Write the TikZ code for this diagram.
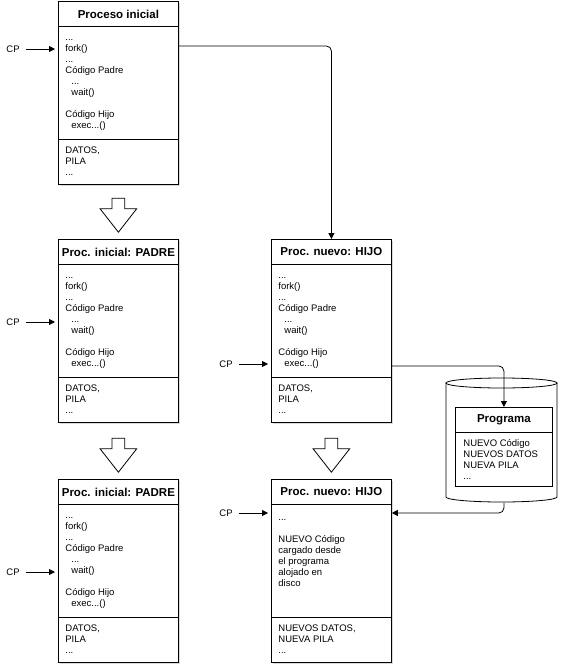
\documentclass[tikz,border=0pt]{standalone}
\usepackage{fontspec}
\setmainfont{Liberation Sans}
\usetikzlibrary{arrows.meta,positioning,shadows,shapes.arrows}

\newcommand{\codigofork}{...\\fork()\\...\\Código Padre\\\hspace*{6pt}...\\\hspace*{6pt}wait()\\[11pt]Código Hijo\\\hspace*{6pt}exec...()}

\begin{document}
\begin{tikzpicture}[x=1pt,y=-1pt,line width=0.8pt,>={Triangle[length=6pt,width=6pt]},
    proc/.style={draw,fill=white,anchor=north west,inner sep=0pt,
      minimum width=120pt,minimum height=183pt,
      drop shadow={opacity=0.3,shadow xshift=2pt,shadow yshift=-2pt}},
    head/.style={font=\bfseries\fontsize{11.5}{13}\selectfont},
    body/.style={anchor=north west,align=left,inner sep=0pt,
      font=\fontsize{9.5}{11}\selectfont,execute at begin node=\strut},
    cp/.style={font=\fontsize{9.5}{11}\selectfont},
    flow/.style={->,rounded corners=5pt},
    bigarrow/.style={single arrow,draw,fill=white,shape border rotate=270,inner sep=6pt,
      minimum height=34pt,single arrow head extend=12pt,single arrow tip angle=76}]
  \useasboundingbox (0,0) rectangle (562,668);

  % procesos
  \node[proc] (p0) at (58,1) {};
  \node[proc] (p1) at (58,239) {};
  \node[proc] (p2) at (58,479) {};
  \node[proc] (h1) at (271,239) {};
  \node[proc] (h2) at (271,479) {};
  \foreach \b in {p0,p1,p2,h1,h2} {
    \draw ([yshift=-25pt]\b.north west) -- ([yshift=-25pt]\b.north east);
    \draw ([yshift=-138pt]\b.north west) -- ([yshift=-138pt]\b.north east);
  }

  \node[head] (p0t) at ([yshift=-13pt]p0.north) {Proceso inicial};
  \node[head] (p1t) at ([yshift=-13pt]p1.north) {Proc. inicial: PADRE};
  \node[head] (p2t) at ([yshift=-13pt]p2.north) {Proc. inicial: PADRE};
  \node[head] (h1t) at ([yshift=-13pt]h1.north) {Proc. nuevo: HIJO};
  \node[head] (h2t) at ([yshift=-13pt]h2.north) {Proc. nuevo: HIJO};

  \node[body] (p0c) at ([xshift=7pt,yshift=-38pt]p0.north west) {\codigofork};
  \node[body] (p1c) at ([xshift=7pt,yshift=-38pt]p1.north west) {\codigofork};
  \node[body] (p2c) at ([xshift=7pt,yshift=-38pt]p2.north west) {\codigofork};
  \node[body] (h1c) at ([xshift=7pt,yshift=-38pt]h1.north west) {\codigofork};
  \node[body] (h2c) at ([xshift=7pt,yshift=-40pt]h2.north west)
    {...\\[11pt]NUEVO Código\\cargado desde\\el programa\\alojado en\\disco};

  \node[body] (p0d) at ([xshift=7pt,yshift=-145pt]p0.north west) {DATOS,\\PILA\\...};
  \node[body] (p1d) at ([xshift=7pt,yshift=-145pt]p1.north west) {DATOS,\\PILA\\...};
  \node[body] (p2d) at ([xshift=7pt,yshift=-145pt]p2.north west) {DATOS,\\PILA\\...};
  \node[body] (h1d) at ([xshift=7pt,yshift=-145pt]h1.north west) {DATOS,\\PILA\\...};
  \node[body] (h2d) at ([xshift=7pt,yshift=-145pt]h2.north west) {NUEVOS DATOS,\\NUEVA PILA\\...};

  % disco con el programa
  \node[inner sep=0pt,minimum width=111pt,minimum height=124pt,anchor=north west] (disco) at (446,378) {};
  \draw[fill=white] (446,383) -- (446,497) arc[start angle=180,end angle=360,x radius=55.5pt,y radius=5pt] -- (557,383);
  \draw[fill=white] (501.5,383) ellipse [x radius=55.5pt,y radius=5pt];
  \node[draw,fill=white,anchor=north west,inner sep=0pt,minimum width=97pt,minimum height=79pt] (prog) at (455,407) {};
  \draw ([yshift=-25pt]prog.north west) -- ([yshift=-25pt]prog.north east);
  \node[head] (progt) at ([yshift=-13pt]prog.north) {Programa};
  \node[body] (progc) at ([xshift=8pt,yshift=-32pt]prog.north west) {NUEVO Código\\NUEVOS DATOS\\NUEVA PILA\\...};

  % flechas de paso
  \node[bigarrow,below=13pt of p0] (a0) {};
  \node[bigarrow,below=15pt of p1] (a1) {};
  \node[bigarrow,below=15pt of h1] (a2) {};

  % contador de programa
  \node[cp] (cp0) at (13,49) {CP};
  \node[cp] (cp1) at (13,322) {CP};
  \node[cp] (cp2) at (13,572) {CP};
  \node[cp] (cp3) at (226,364) {CP};
  \node[cp] (cp4) at (226,513) {CP};
  \draw[->,shorten <=3pt,shorten >=3pt] (cp0) -- (cp0 -| p0.west);
  \draw[->,shorten <=3pt,shorten >=3pt] (cp1) -- (cp1 -| p1.west);
  \draw[->,shorten <=3pt,shorten >=3pt] (cp2) -- (cp2 -| p2.west);
  \draw[->,shorten <=3pt,shorten >=3pt] (cp3) -- (cp3 -| h1.west);
  \draw[->,shorten <=3pt,shorten >=3pt] (cp4) -- (cp4 -| h2.west);

  \draw[flow] ([yshift=-45pt]p0.north east) -| (h1.north);
  \draw[flow] ([yshift=-127pt]h1.north east) -| (prog.north);
  \draw[flow] (prog.south |- disco.south) |- ([yshift=-34pt]h2.north east);
\end{tikzpicture}
\end{document}
